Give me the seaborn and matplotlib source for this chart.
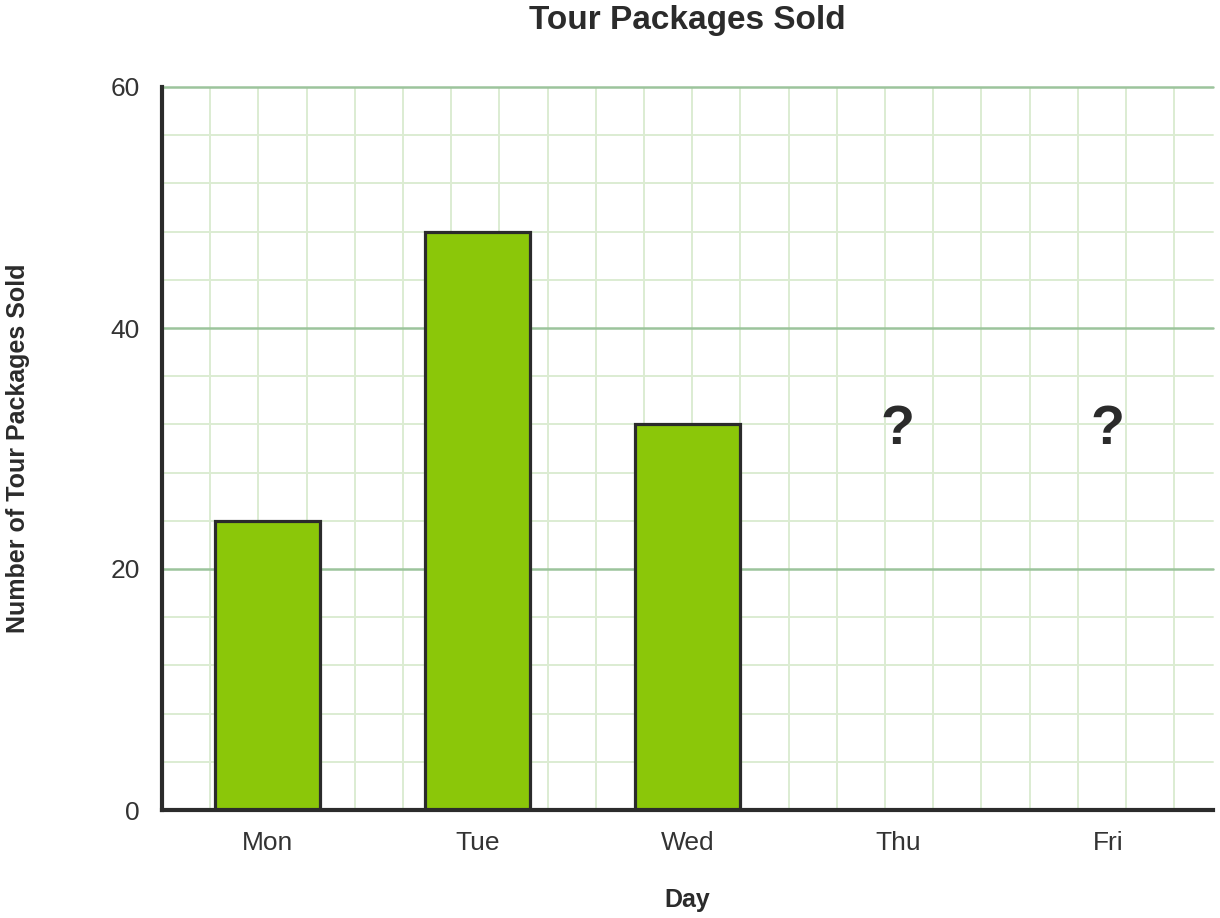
import numpy as np
import pandas as pd
import matplotlib
matplotlib.use("Agg")
import matplotlib.pyplot as plt
import seaborn as sns

# ---- data ----
days = ["Mon", "Tue", "Wed", "Thu", "Fri"]
packages_sold = [24, 48, 32, np.nan, np.nan]
unknown_label = "?"
y_ticks = [0, 20, 40, 60]

title = "Tour Packages Sold"
x_label = "Day"
y_label = "Number of Tour Packages Sold"

# ---- style ----
sns.set_theme(style="white")
plt.rcParams["font.family"] = ["Liberation Sans", "DejaVu Sans"]

dark = "#2b2b2b"
bar_color = "#8bc709"
major_grid = "#9cc49c"
minor_grid = "#dcecd2"

W, H, DPI = 1220, 918, 100
fig = plt.figure(figsize=(W / DPI, H / DPI), dpi=DPI)
ax_left, ax_right, ax_top, ax_bottom = 162, 1213, 87, 810
ax = fig.add_axes([ax_left / W, 1 - ax_bottom / H,
                   (ax_right - ax_left) / W, (ax_bottom - ax_top) / H])

df = pd.DataFrame({"day": days, "sold": packages_sold})
sns.barplot(data=df, x="day", y="sold", order=days, color=bar_color,
            saturation=1, width=0.5, edgecolor=dark, linewidth=2.3,
            ax=ax, zorder=3)

ymax = 60
ax.set_ylim(0, ymax)
ax.set_xlim(-0.5, len(days) - 0.5)

# square grid: minor step of 4 units, same pixel spacing on x
minor_step = 4
for v in np.arange(0, ymax + 0.01, minor_step):
    is_major = v in y_ticks
    ax.axhline(v, color=major_grid if is_major else minor_grid,
               lw=1.8 if is_major else 1.4, zorder=2 if is_major else 1,
               clip_on=False)
px_per_y = (ax_bottom - ax_top) / ymax
px_per_x = (ax_right - ax_left) / len(days)
x_step = minor_step * px_per_y / px_per_x
xv = -0.5 + x_step
while xv < len(days) - 0.5 - 1e-6:
    ax.axvline(xv, color=minor_grid, lw=1.4, zorder=1)
    xv += x_step

# unknown values
for i, v in enumerate(packages_sold):
    if np.isnan(v):
        ax.text(i, 31.5, unknown_label, ha="center", va="center",
                fontsize=40, fontweight="bold", color=dark, zorder=4)

ax.set_yticks(y_ticks)
ax.set_yticklabels([str(t) for t in y_ticks])
ax.tick_params(axis="both", length=0, labelsize=19, colors="#333333")
ax.tick_params(axis="y", pad=16)
ax.tick_params(axis="x", pad=15)

for s in ["top", "right"]:
    ax.spines[s].set_visible(False)
for s in ["left", "bottom"]:
    ax.spines[s].set_color(dark)
    ax.spines[s].set_linewidth(3)
    ax.spines[s].set_zorder(5)

ax.set_xlabel(x_label, fontsize=18, fontweight="bold", color=dark, labelpad=24)
ax.set_ylabel("")
fig.text(18 / W, 1 - ((ax_top + ax_bottom) / 2) / H, y_label, rotation=90,
         ha="center", va="center", fontsize=18, fontweight="bold", color=dark)
fig.text((ax_left + ax_right) / 2 / W, 1 - 20 / H, title, ha="center",
         va="center", fontsize=24, fontweight="bold", color=dark)

fig.savefig("out.png", dpi=DPI)
